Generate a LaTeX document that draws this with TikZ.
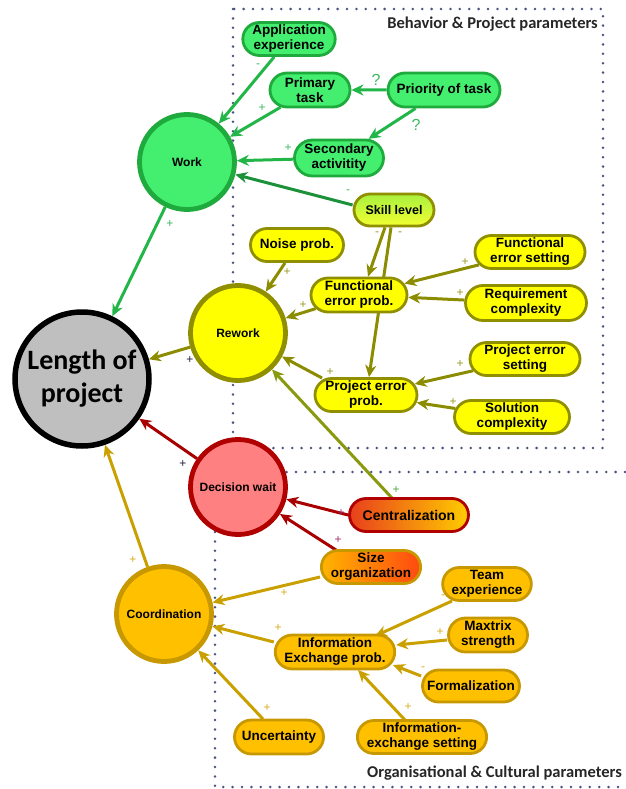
\documentclass[tikz,border=0pt]{standalone}
\usepackage{fontspec}
\setmainfont{Liberation Sans}
\newfontfamily\headfont{Carlito}
\usetikzlibrary{shapes.misc,arrows.meta}
\pgfdeclarelayer{bg}
\pgfsetlayers{bg,main}
\definecolor{gfill}{HTML}{44EE6E}
\definecolor{gdraw}{HTML}{1EAA3C}
\definecolor{gline}{HTML}{22B548}
\definecolor{glbl}{HTML}{3CB860}
\definecolor{yfill}{HTML}{FFFF00}
\definecolor{ydraw}{HTML}{8F8F00}
\definecolor{yline}{HTML}{8C8C00}
\definecolor{ylbl}{HTML}{9A9A20}
\definecolor{rfill}{HTML}{FF8080}
\definecolor{rdraw}{HTML}{B00000}
\definecolor{rline}{HTML}{A80000}
\definecolor{rlbl}{HTML}{A0306A}
\definecolor{ofill}{HTML}{FFC000}
\definecolor{odraw}{HTML}{C89800}
\definecolor{oline}{HTML}{C9A000}
\definecolor{olbl}{HTML}{D8AC20}
\definecolor{klbl}{HTML}{202040}
\definecolor{dotc}{HTML}{485380}
\definecolor{cline}{HTML}{8A9A10}
\definecolor{skilltop}{HTML}{A8F040}
\definecolor{skillbot}{HTML}{F2FF30}
\definecolor{centl}{HTML}{E8401C}
\definecolor{centr}{HTML}{FFCC00}
\definecolor{sizel}{HTML}{FFB400}
\definecolor{sizer}{HTML}{FF4A10}
\begin{document}
\begin{tikzpicture}[x=1pt,y=-1pt,
  pill/.style={rounded rectangle, line width=2.8pt, font=\bfseries\fontsize{13.5}{15}\selectfont, align=center, inner xsep=2pt, inner ysep=1pt},
  gpill/.style={pill, draw=gdraw, fill=gfill},
  ypill/.style={pill, draw=ydraw, fill=yfill},
  opill/.style={pill, draw=odraw, fill=ofill},
  sz/.style 2 args={minimum width=#1pt, minimum height=#2pt},
  circ/.style={circle, line width=4.8pt, minimum size=95pt, inner sep=0pt, font=\bfseries\fontsize{12}{14}\selectfont},
  arr/.style={-{Stealth[length=12pt,width=11pt]}, line width=3pt},
  lbl/.style={font=\fontsize{12}{12}\selectfont, inner sep=0pt},
  qlbl/.style={font=\fontsize{16}{16}\selectfont, inner sep=0pt, text=glbl},
  dots/.style={draw=dotc, line width=2.8pt, line cap=round, dash pattern=on 0pt off 9.4pt}
]
\useasboundingbox (0,0) rectangle (625,789);

% ---------- big circles
\node[circle, draw=black, line width=5.5pt, fill=black!25, minimum size=134pt, inner sep=0pt, align=center,
      font=\headfont\bfseries\fontsize{28}{33}\selectfont] (length) at (82,379) {Length of\\project};
\node[circ, draw=gdraw, fill=gfill] (work) at (187,162) {Work};
\node[circ, draw=ydraw, fill=yfill] (rework) at (238,333) {Rework};
\node[circ, draw=rdraw, fill=rfill] (dw) at (238,487) {Decision wait};
\node[circ, draw=odraw, fill=ofill] (coord) at (164,614) {Coordination};

% ---------- green pills
\node[gpill, sz={92}{33}] (app) at (289,39) {Application\\experience};
\node[gpill, sz={84}{34}] (primary) at (310,90) {Primary\\task};
\node[gpill, sz={116}{34}] (priority) at (444,90) {Priority of task};
\node[gpill, sz={93}{36}] (secondary) at (339,158) {Secondary\\activitity};
\node[pill, draw=ydraw, top color=skilltop, bottom color=skillbot, sz={84}{32},
      font=\bfseries\fontsize{12.5}{14}\selectfont] (skill) at (394,210) {Skill level};

% ---------- yellow pills
\node[ypill, sz={97}{33}] (noise) at (297,245) {Noise prob.};
\node[ypill, sz={100}{34}] (fep) at (359,295) {Functional\\error prob.};
\node[ypill, sz={114}{33}] (fes) at (530,252) {Functional\\error setting};
\node[ypill, sz={125}{35}] (rc) at (526,303) {Requirement\\complexity};
\node[ypill, sz={114}{33}] (pes) at (525,359) {Project error\\setting};
\node[ypill, sz={106}{33}] (pep) at (366,395) {Project error\\prob.};
\node[ypill, sz={119}{33}] (sc) at (512,417) {Solution\\complexity};

% ---------- red / orange pills
\node[pill, draw=rdraw, left color=centl, right color=centr, sz={123}{33},
      font=\bfseries\fontsize{14}{16}\selectfont] (central) at (409,515) {Centralization};
\node[pill, draw=odraw, left color=sizel, right color=sizer, sz={98}{33}] (size) at (371,567) {Size\\organization};
\node[opill, sz={85}{33}] (team) at (487,584) {Team\\experience};
\node[opill, sz={83}{34}] (maxtrix) at (488,635) {Maxtrix\\strength};
\node[opill, sz={118}{34}] (iep) at (335,652) {Information\\Exchange prob.};
\node[opill, sz={101}{32}] (formal) at (471,686) {Formalization};
\node[opill, sz={129}{33}] (ies) at (422,737) {Information-\\exchange setting};
\node[opill, sz={93}{34}] (uncert) at (279,737) {Uncertainty};

% ---------- group labels
\node[anchor=east, inner sep=0pt, font=\headfont\bfseries\fontsize{16.5}{18}\selectfont, text=black!85] (bhead) at (598,24) {Behavior \& Project parameters};
\node[anchor=west, inner sep=0pt, font=\headfont\bfseries\fontsize{16.5}{18}\selectfont, text=black!85] (ohead) at (367,773) {Organisational \& Cultural parameters};

% ---------- background: boxes and connectors
\begin{pgfonlayer}{bg}
\draw[dots] (233,9) rectangle (603,448);
\draw[dots] (625,472) -- (215,472) -- (215,787) -- (625,787);

% green
\draw[arr, gline] (app) -- (work);
\draw[arr, gline] (primary) -- (work);
\draw[arr, gline] (priority) -- (primary);
\draw[arr, gline] (priority) -- (secondary);
\draw[arr, gline] (secondary) -- (work);
\draw[arr, gline!80!black] ([shift={(0,-5)}]skill.west) -- (work);
\draw[arr, gline] (work) -- (length);

% yellow
\draw[arr, yline] (noise) -- (rework);
\draw[arr, yline] ([shift={(-9,0)}]skill.south) -- ([shift={(9,0)}]fep.north);
\draw[arr, yline] ([shift={(-3,0)}]skill.south) -- ([shift={(3,0)}]pep.north);
\draw[arr, yline] (fes) -- (fep);
\draw[arr, yline] (rc) -- (fep);
\draw[arr, yline] (fep) -- (rework);
\draw[arr, yline] (pes) -- (pep);
\draw[arr, yline] (sc) -- (pep);
\draw[arr, yline] ([shift={(-44,-17)}]pep.center) -- (rework);
\draw[arr, yline] (rework) -- (length);
\draw[arr, cline] ([shift={(-17,-17)}]central.center) -- (rework);

% red
\draw[arr, rline] (central.west) -- (dw);
\draw[arr, rline] ([shift={(-35,-17)}]size.center) -- (dw);
\draw[arr, rline] (dw) -- (length);

% orange
\draw[arr, oline] ([shift={(0,10)}]size.west) -- (coord);
\draw[arr, oline] ([shift={(0,-10)}]iep.west) -- (coord);
\draw[arr, oline] ([shift={(-16,-18)}]uncert.center) -- (coord);
\draw[arr, oline] (coord) -- (length);
\draw[arr, oline] ([shift={(-35,17)}]team.center) -- ([shift={(40,-16)}]iep.center);
\draw[arr, oline] ([shift={(0,5)}]maxtrix.west) -- ([shift={(0,-7)}]iep.east);
\draw[arr, oline] ([shift={(0,-10)}]formal.west) -- ([shift={(58,13)}]iep.center);
\draw[arr, oline] ([shift={(-17,-17)}]ies.center) -- ([shift={(23,18)}]iep.center);
\end{pgfonlayer}

% ---------- polarity labels
\node[lbl, text=glbl] (l1) at (258,66) {-};
\node[lbl, text=glbl] (l2) at (262,108) {+};
\node[qlbl] (l3) at (376,80) {?};
\node[qlbl] (l4) at (416,125) {?};
\node[lbl, text=glbl] (l5) at (288,148) {+};
\node[lbl, text=glbl] (l6) at (348,192) {-};
\node[lbl, text=glbl] (l7) at (170,224) {+};
\node[lbl, text=ylbl] (l8) at (287,272) {+};
\node[lbl, text=ylbl] (l9) at (377,234) {-};
\node[lbl, text=ylbl] (l10) at (400,234) {-};
\node[lbl, text=ylbl] (l11) at (465,262) {+};
\node[lbl, text=ylbl] (l12) at (460,293) {+};
\node[lbl, text=ylbl] (l13) at (303,305) {+};
\node[lbl, text=ylbl] (l14) at (460,364) {+};
\node[lbl, text=ylbl] (l15) at (453,402) {+};
\node[lbl, text=ylbl] (l16) at (330,372) {+};
\node[lbl, text=klbl] (l17) at (190,360) {+};
\node[lbl, text=glbl!70!olive] (l18) at (396,490) {+};
\node[lbl, text=rlbl] (l19) at (341,513) {+};
\node[lbl, text=rlbl] (l20) at (338,540) {+};
\node[lbl, text=klbl] (l21) at (183,464) {+};
\node[lbl, text=olbl] (l22) at (284,593) {+};
\node[lbl, text=olbl] (l23) at (278,628) {+};
\node[lbl, text=olbl] (l24) at (267,708) {+};
\node[lbl, text=olbl] (l25) at (133,560) {+};
\node[lbl, text=olbl] (l26) at (443,597) {-};
\node[lbl, text=olbl] (l27) at (440,632) {+};
\node[lbl, text=olbl] (l28) at (423,669) {-};
\node[lbl, text=olbl] (l29) at (408,707) {+};
\end{tikzpicture}
\end{document}
